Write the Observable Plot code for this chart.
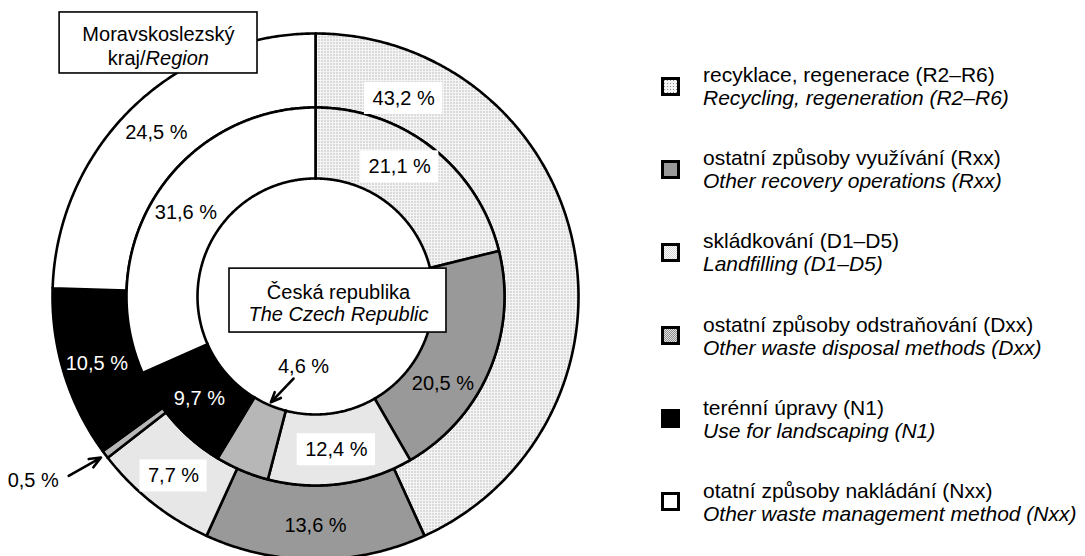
<!DOCTYPE html>
<html>
<head>
<meta charset="utf-8">
<script src="https://cdn.jsdelivr.net/npm/d3@7"></script>
<script src="https://cdn.jsdelivr.net/npm/@observablehq/plot@0.6"></script>
<style>
  body { margin: 0; background: #fff; font-family: "Liberation Sans", Arial, sans-serif; }
  #wrap { position: relative; width: 1085px; height: 556px; overflow: hidden; background: #fff; }
  #chart { position: absolute; left: 0; top: 0; }
  #legend { position: absolute; left: 661px; top: 63px; }
  .item { display: flex; align-items: center; height: 46px; margin-bottom: 37.2px; }
  .item svg { flex: none; margin-right: 23px; }
  .txt { font-size: 21px; line-height: 23px; color: #000; white-space: nowrap; }
  .txt i { font-style: italic; }
</style>
</head>
<body>
<div id="wrap"><div id="chart"></div><div id="legend"></div></div>
<script>
// ---------------- data ----------------
const categoriesCz = [
  "recyklace, regenerace (R2–R6)",
  "ostatní způsoby využívání (Rxx)",
  "skládkování (D1–D5)",
  "ostatní způsoby odstraňování (Dxx)",
  "terénní úpravy (N1)",
  "otatní způsoby nakládání (Nxx)"
];
const categoriesEn = [
  "Recycling, regeneration (R2–R6)",
  "Other recovery operations (Rxx)",
  "Landfilling (D1–D5)",
  "Other waste disposal methods (Dxx)",
  "Use for landscaping (N1)",
  "Other waste management method (Nxx)"
];
const regionValues = [43.2, 13.6, 7.7, 0.5, 10.5, 24.5];   // outer ring: Moravskoslezský kraj
const czechValues  = [21.1, 20.5, 12.4, 4.6, 9.7, 31.6];   // inner ring: Česká republika
const regionTitle = ["Moravskoslezský", "kraj/", "Region"];
const czechTitle  = ["Česká republika", "The Czech Republic"];

// ---------------- styles / layout ----------------
const fills = ["url(#p-rec)", "#999999", "url(#p-land)", "url(#p-disp)", "#000000", "#ffffff"];
const labelColors = ["#000", "#000", "#000", "#000", "#fff", "#000"];
const boxedLabel = [true, false, true, false, false, false];
const FONT = '"Liberation Sans", Arial, sans-serif';
const SCALE = 263, CX = 315, CY = 296;
const rings = [
  {name: "region", values: regionValues, r0: 189 / 263, r1: 1, rl: 0.87},
  {name: "czech", values: czechValues, r0: 118 / 263, r1: 189 / 263, rl: 0.588}
];
// label placement overrides (polar: degrees clockwise from top, radius in ring units)
const labelLayout = {
  region0: {angle: 24, r: 0.824},
  czech0: {angle: 33},
  czech1: {angle: 124.5},
  region3: {angle: 236.9, r: 1.281, from: [234, 1.16], to: 1.02},
  czech3: {angle: 189.7, r: 0.27, from: [195, 0.323], to: 0.437}
};

function pt(r, deg) { const a = deg * Math.PI / 180; return {x: r * Math.sin(a), y: r * Math.cos(a)}; }
const fmt = v => v.toFixed(1).replace(".", ",") + " %";

const ctx = document.createElement("canvas").getContext("2d");
ctx.font = "20px " + FONT;

const polys = [], labels = [], boxes = [], arrows = [];
for (const ring of rings) {
  const total = d3.sum(ring.values);
  let acc = 0;
  ring.values.forEach((v, i) => {
    const a0 = acc / total * 360, a1 = (acc + v) / total * 360; acc += v;
    const key = ring.name + i;
    const n = Math.max(2, Math.ceil((a1 - a0) / 0.5));
    const pts = [];
    for (let k = 0; k <= n; k++) pts.push(pt(ring.r1, a0 + (a1 - a0) * k / n));
    for (let k = n; k >= 0; k--) pts.push(pt(ring.r0, a0 + (a1 - a0) * k / n));
    pts.push(pts[0]);
    pts.forEach(p => polys.push({x: p.x, y: p.y, key, fill: fills[i]}));
    const mid = (a0 + a1) / 2;
    const lay = labelLayout[key] || {};
    const p = pt(lay.r ?? ring.rl, lay.angle ?? mid);
    const text = fmt(v);
    labels.push({x: p.x, y: p.y, text, color: labelColors[i]});
    if (boxedLabel[i] && !lay.from) {
      const hw = (ctx.measureText(text).width + 16) / 2 / SCALE, hh = 16 / SCALE;
      boxes.push({x1: p.x - hw, x2: p.x + hw, y1: p.y - hh, y2: p.y + hh});
    }
    if (lay.from) {
      const f = pt(lay.from[1], lay.from[0]), t = pt(lay.to, mid);
      arrows.push({x1: f.x, y1: f.y, x2: t.x, y2: t.y});
    }
  });
}

// title boxes (annotation layout in ring units)
const titleBoxes = [
  {x1: -0.973, x2: -0.2205, y1: 0.848, y2: 1.080},
  {x1: -0.327, x2: 0.498, y1: -0.137, y2: 0.106}
];
const titlesMid = [
  {x: -0.597, y: 0.997, text: regionTitle[0]},
  {x: 0.0875, y: 0.015, text: czechTitle[0]}
];
const titlesMidItalic = [{x: 0.0875, y: -0.068, text: czechTitle[1]}];
const titlesEnd = [{x: -0.646, y: 0.905, text: regionTitle[1]}];
const titlesStartItalic = [{x: -0.646, y: 0.905, text: regionTitle[2]}];

const chart = Plot.plot({
  width: 640,
  height: 556,
  margin: 0,
  x: {domain: [-1, 1], range: [CX - SCALE, CX + SCALE], axis: null},
  y: {domain: [-1, 1], range: [CY + SCALE, CY - SCALE], axis: null},
  color: {type: "identity"},
  style: {fontFamily: FONT, fontSize: "20px", background: "white", overflow: "visible"},
  marks: [
    Plot.line(polys, {x: "x", y: "y", z: "key", fill: "fill", stroke: "#000", strokeWidth: 2.6, strokeLinejoin: "miter", strokeMiterlimit: 4, curve: "linear"}),
    Plot.rect(boxes, {x1: "x1", x2: "x2", y1: "y1", y2: "y2", fill: "#fff"}),
    Plot.text(labels, {x: "x", y: "y", text: "text", fill: "color", fontSize: 20}),
    Plot.arrow(arrows, {x1: "x1", y1: "y1", x2: "x2", y2: "y2", stroke: "#000", strokeWidth: 2.6, headLength: 11, headAngle: 45}),
    Plot.rect(titleBoxes, {x1: "x1", x2: "x2", y1: "y1", y2: "y2", fill: "#fff", stroke: "#000", strokeWidth: 1.6}),
    Plot.text(titlesMid, {x: "x", y: "y", text: "text", fontSize: 20, fill: "#000"}),
    Plot.text(titlesMidItalic, {x: "x", y: "y", text: "text", fontSize: 20, fontStyle: "italic", fill: "#000"}),
    Plot.text(titlesEnd, {x: "x", y: "y", text: "text", fontSize: 20, textAnchor: "end", fill: "#000"}),
    Plot.text(titlesStartItalic, {x: "x", y: "y", text: "text", fontSize: 20, textAnchor: "start", fontStyle: "italic", fill: "#000"})
  ]
});

// fill patterns
const defs = d3.select(chart).insert("defs", ":first-child");
function pattern(id, size, bg, cells) {
  const p = defs.append("pattern").attr("id", id).attr("width", size).attr("height", size).attr("patternUnits", "userSpaceOnUse");
  p.append("rect").attr("width", size).attr("height", size).attr("fill", bg);
  for (const [cx, cy, c] of cells) p.append("rect").attr("x", cx).attr("y", cy).attr("width", 1).attr("height", 1).attr("fill", c);
}
pattern("p-rec", 3, "#f4f4f4", [[0, 0, "#8a8a8a"]]);
pattern("p-land", 2, "#ffffff", [[0, 0, "#cfcfcf"], [1, 1, "#cfcfcf"]]);
pattern("p-disp", 2, "#e2e2e2", [[0, 0, "#8c8c8c"], [1, 1, "#8c8c8c"]]);

document.getElementById("chart").appendChild(chart);

// legend
const legend = document.getElementById("legend");
categoriesCz.forEach((c, i) => {
  const item = document.createElement("div");
  item.className = "item";
  item.innerHTML = `<svg width="19" height="19"><rect x="1.5" y="1.5" width="16" height="16" fill="${fills[i]}" stroke="#000" stroke-width="3"/></svg><div class="txt">${c}<br><i>${categoriesEn[i]}</i></div>`;
  legend.appendChild(item);
});
</script>
</body>
</html>
